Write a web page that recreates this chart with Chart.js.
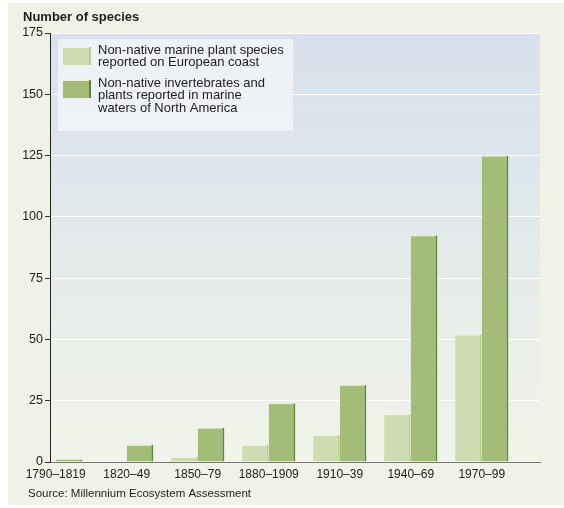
<!DOCTYPE html>
<html>
<head>
<meta charset="utf-8">
<script src="https://cdn.jsdelivr.net/npm/chart.js@4"></script>
<style>
  html, body { margin: 0; padding: 0; background: #ffffff; }
  #wrap { width: 564px; height: 508px; }
</style>
</head>
<body>
<div id="wrap"><canvas id="speciesChart" width="564" height="508"></canvas></div>
<script>
// categories and values
var periods = ["1790\u20131819", "1820\u201349", "1850\u201379", "1880\u20131909", "1910\u201339", "1940\u201369", "1970\u201399"];
var europe = [0, 0, 2, 7, 11, 19.5, 52];          // non-native marine plant species, European coast
var northAmerica = [1, 7, 14, 24, 31.5, 92.5, 125]; // invertebrates and plants, North America
var yTicks = [0, 25, 50, 75, 100, 125, 150, 175];

var europeLegend = ["Non-native marine plant species", "reported on European coast"];
var naLegend = ["Non-native invertebrates and", "plants reported in marine", "waters of North America"];

var FONT = "'Liberation Sans', Arial, Helvetica, sans-serif";

var lightGreen = "#cfdcb1";
var lightEdge = "#b9cf92";
var darkGreen = "#a3bd78";
var darkEdge = "#5b8a3b";

function pts(arr) {
  return arr.map(function (v, i) { return { x: i, y: v }; });
}

// background, plot gradient, title, source and legend
var backdrop = {
  id: "backdrop",
  beforeDraw: function (chart) {
    var ctx = chart.ctx, a = chart.chartArea;
    ctx.save();
    ctx.fillStyle = "#f2f1e6";
    ctx.fillRect(8, 3, 556, 502);
    var g = ctx.createLinearGradient(0, a.top, 0, a.bottom);
    g.addColorStop(0, "#d7e0ec");
    g.addColorStop(1, "#f1f4e9");
    ctx.fillStyle = g;
    ctx.fillRect(a.left, a.top, a.right - a.left, a.bottom - a.top);

    ctx.fillStyle = "#1e1e1e";
    ctx.textBaseline = "alphabetic";
    ctx.font = "bold 13px " + FONT;
    ctx.fillText("Number of species", 23, 21);
    ctx.font = "11.5px " + FONT;
    ctx.fillText("Source: Millennium Ecosystem Assessment", 28, 497);
    ctx.restore();
  },
  afterDatasetsDraw: function (chart) {
    // pale highlight on bar tops
    var ctx = chart.ctx, a = chart.chartArea;
    ctx.save();
    chart.data.datasets.forEach(function (ds, di) {
      chart.getDatasetMeta(di).data.forEach(function (bar) {
        if (Math.abs(bar.base - bar.y) < 4) return;
        var x0 = Math.max(a.left, bar.x - bar.width / 2);
        ctx.fillStyle = "rgba(246,248,228,0.9)";
        ctx.fillRect(x0, bar.y, bar.x + bar.width / 2 - 2 - x0, 1);
      });
    });
    ctx.restore();
  },
  afterDraw: function (chart) {
    var ctx = chart.ctx;
    ctx.save();
    ctx.fillStyle = "rgba(240,243,247,0.92)";
    ctx.fillRect(58, 39, 235, 92);
    var items = [
      { lines: europeLegend, fill: lightGreen, edge: lightEdge, y: 47 },
      { lines: naLegend, fill: darkGreen, edge: darkEdge, y: 80 }
    ];
    ctx.font = "13px " + FONT;
    ctx.textBaseline = "alphabetic";
    items.forEach(function (it) {
      ctx.fillStyle = it.fill;
      ctx.fillRect(63, it.y, 28, 18);
      ctx.fillStyle = it.edge;
      ctx.fillRect(89, it.y, 2, 18);
      ctx.fillStyle = "rgba(246,248,228,0.9)";
      ctx.fillRect(63, it.y, 26, 1);
      ctx.fillStyle = "#222222";
      it.lines.forEach(function (t, k) {
        ctx.fillText(t, 98, it.y + 7 + k * 12.3);
      });
    });
    ctx.restore();
  }
};

new Chart(document.getElementById("speciesChart"), {
  type: "bar",
  data: {
    datasets: [{
      label: europeLegend.join(" "),
      data: pts(europe),
      backgroundColor: lightGreen,
      borderColor: lightEdge,
      borderWidth: { top: 0, right: 2, bottom: 0, left: 0 },
      borderSkipped: false
    }, {
      label: naLegend.join(" "),
      data: pts(northAmerica),
      backgroundColor: darkGreen,
      borderColor: darkEdge,
      borderWidth: { top: 0, right: 2, bottom: 0, left: 0 },
      borderSkipped: false
    }]
  },
  options: {
    responsive: false,
    animation: false,
    events: [],
    categoryPercentage: 0.75,
    barPercentage: 1,
    layout: { padding: { left: 0, right: 24, top: 33, bottom: 26 } },
    plugins: { legend: { display: false }, tooltip: { enabled: false } },
    scales: {
      x: {
        type: "linear",
        min: -0.08,
        max: 6.82,
        offset: false,
        grid: { display: true, offset: false, color: "rgba(0,0,0,0)", drawTicks: false, drawOnChartArea: false },
        border: { display: true, color: "#7a7a7a", width: 1 },
        afterFit: function (s) { s.height = 20; },
        afterBuildTicks: function (s) { s.ticks = periods.map(function (p, i) { return { value: i }; }); },
        ticks: {
          autoSkip: false,
          maxRotation: 0,
          padding: 5,
          color: "#222222",
          font: { family: FONT, size: 12 },
          callback: function (v) {
            var i = Math.round(v);
            return periods[i] || "";
          }
        }
      },
      y: {
        min: 0,
        max: 175,
        afterFit: function (s) { s.width = 50; },
        afterBuildTicks: function (s) { s.ticks = yTicks.map(function (v) { return { value: v }; }); },
        grid: { color: "#ffffff", lineWidth: 1, tickColor: "#333333", tickLength: 5 },
        border: { display: true, color: "#222222", width: 1 },
        ticks: {
          padding: 2,
          color: "#222222",
          font: { family: FONT, size: 12.5 }
        }
      }
    }
  },
  plugins: [backdrop]
});
</script>
</body>
</html>
